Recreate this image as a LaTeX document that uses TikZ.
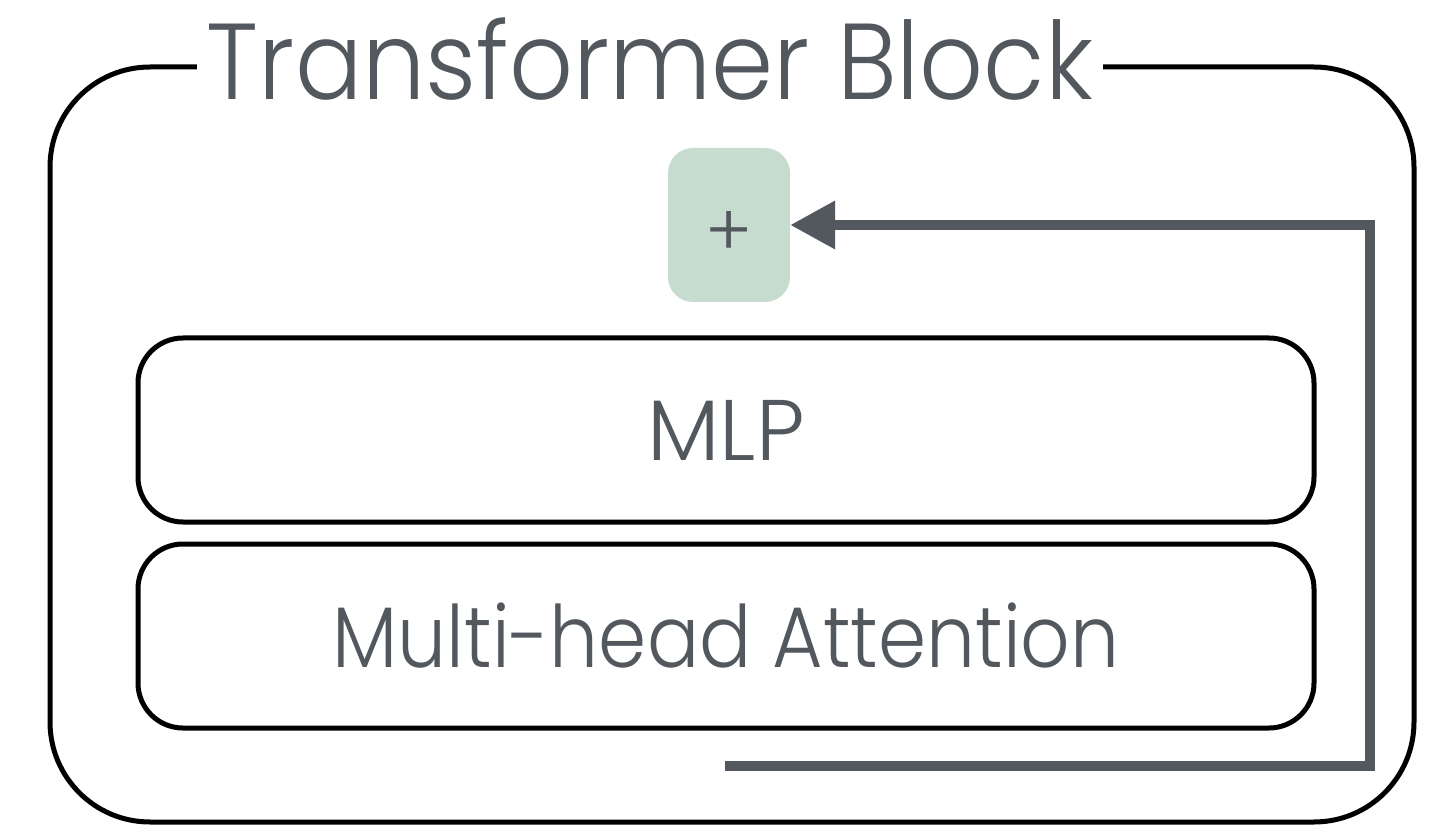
\documentclass[tikz,border=0pt]{standalone}
\usepackage{fontspec}
\setmainfont{Poppins Light}
\newfontfamily\narrowfont{Poppins Light}[FakeStretch=0.9]
\newfontfamily\titlefont{Poppins Light}[FakeStretch=0.925]
\usetikzlibrary{arrows.meta}
\definecolor{inkgray}{HTML}{53585F}
\definecolor{addgreen}{HTML}{C6DCCF}
\begin{document}
\begin{tikzpicture}[x=1pt,y=-1pt,
  block/.style={draw=black, line width=5pt, rounded corners=45pt,
    minimum width=1176pt, minimum height=184pt, inner sep=0pt,
    text=inkgray, font=\fontsize{86}{90}\selectfont},
  addbox/.style={fill=addgreen, rounded corners=25pt, minimum width=122pt,
    minimum height=154pt, inner sep=0pt},
  residual/.style={draw=inkgray, line width=10pt, line join=miter,
    -{Triangle[length=45pt 0, width=46pt 0]}}]
\useasboundingbox (0,0) rectangle (1446,826);
% outer frame of the block
\draw[line width=5pt, rounded corners=100pt] (50,67) rectangle (1414,822);
\node[fill=white, inner xsep=10pt, inner ysep=0pt, anchor=base, text=inkgray,
  font=\titlefont\fontsize{108}{110}\selectfont] (title) at (650,100) {Transformer Block};
% sublayers
\node[block] (mlp) at (726,430) {MLP};
\node[block, font=\narrowfont\fontsize{86}{90}\selectfont] (mha) at (726,636) {Multi-head Attention};
% the sum
\node[addbox] (add) at (729,225) {};
\node[inner sep=0pt, text=inkgray, font=\fontsize{72}{72}\selectfont]
  (addsign) at ([yshift=-9pt]add.center) {+};
% residual connection into the sum
\coordinate (resin) at (725,766);
\coordinate (resturn) at (1370,766);
\draw[residual] (resin) -- (resturn) |- (add.east);
\end{tikzpicture}
\end{document}
